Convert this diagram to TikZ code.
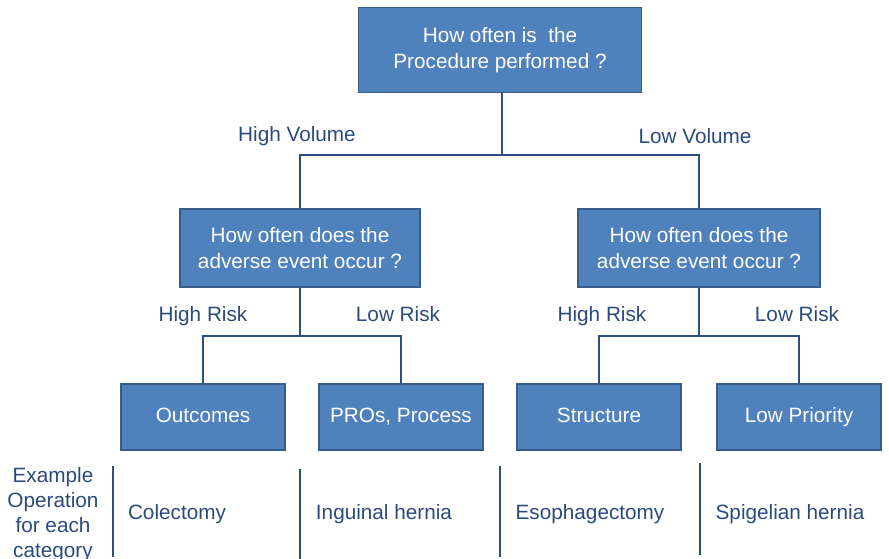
\documentclass[tikz,border=0pt]{standalone}
\usepackage{fontspec}
\setmainfont{Liberation Sans}
\usepackage{xcolor}
\usepackage{tikz}
\usetikzlibrary{positioning}
\definecolor{boxblue}{HTML}{4F81BD}
\definecolor{edgeblue}{HTML}{385D8A}
\definecolor{lineblue}{HTML}{2D4F86}
\definecolor{textblue}{HTML}{2B4A7C}

\begin{document}
\begin{tikzpicture}
\tikzstyle{box}=[draw=edgeblue,line width=1.1pt,fill=boxblue,text=white,align=center,
  font=\fontsize{11.8}{14.7}\selectfont,inner sep=0pt]
\tikzstyle{catbox}=[box,minimum width=3.28cm,minimum height=1.32cm,text height=1.6ex,text depth=.4ex]
\tikzstyle{lbl}=[text=textblue,align=center,font=\fontsize{11.8}{14.2}\selectfont]
\tikzstyle{word}=[lbl,text height=1.6ex,text depth=.4ex]
\tikzstyle{link}=[draw=lineblue,line width=1.6pt]

\useasboundingbox (0,0) rectangle (17.78,11.18);

% Volume question
\node[box,minimum width=5.66cm,minimum height=1.7cm] (top) at (10.0,10.18) {How often is\ \ the\\Procedure performed ?};
% Risk questions
\node[box,minimum width=4.8cm,minimum height=1.56cm] (midL) at (6.0,6.22) {How often does the\\adverse event occur ?};
\node[box,minimum width=4.84cm,minimum height=1.56cm] (midR) at (13.98,6.22) {How often does the\\adverse event occur ?};
% Categories
\node[catbox] (outc) at (4.06,2.84) {Outcomes};
\node[catbox] (pros) at (8.02,2.84) {PROs, Process};
\node[catbox] (struc) at (11.98,2.84) {Structure};
\node[catbox] (lowp) at (15.98,2.84) {Low Priority};

% Branch points
\coordinate (vol) at (10.04,8.08);
\coordinate (riskL) at (6.0,4.46);
\coordinate (riskR) at (13.98,4.46);

\draw[link] (top.south -| vol) -- (vol);
\draw[link] (midL.north) |- (vol) -| (midR.north);
\draw[link] (midL.south) -- (riskL);
\draw[link] (outc.north) |- (riskL) -| (pros.north);
\draw[link] (midR.south) -- (riskR);
\draw[link] (struc.north) |- (riskR) -| (lowp.north);

% Branch labels
\node[word] (hv) at (5.94,8.46) {High Volume};
\node[word] (lv) at (13.9,8.42) {Low Volume};
\node[word] (hrL) at (4.06,4.86) {High Risk};
\node[word] (lrL) at (7.96,4.86) {Low Risk};
\node[word] (hrR) at (12.04,4.86) {High Risk};
\node[word] (lrR) at (15.94,4.86) {Low Risk};

% Example operations
\node[lbl] (expl) at (1.06,0.88) {Example\\Operation\\for each\\category};
\node[word] (colec) at (3.54,0.9) {Colectomy};
\node[word] (ingu) at (7.68,0.9) {Inguinal hernia};
\node[word] (esoph) at (11.8,0.9) {Esophagectomy};
\node[word] (spig) at (15.8,0.9) {Spigelian hernia};

% Separators
\coordinate (sepAt) at (2.26,1.86);
\coordinate (sepAb) at (2.26,0.04);
\coordinate (sepBt) at (6.0,1.8);
\coordinate (sepBb) at (6.0,0);
\coordinate (sepCt) at (10.0,1.86);
\coordinate (sepCb) at (10.0,0.04);
\coordinate (sepDt) at (14.0,1.92);
\coordinate (sepDb) at (14.0,0.08);
\draw[link] (sepAt) -- (sepAb);
\draw[link] (sepBt) -- (sepBb);
\draw[link] (sepCt) -- (sepCb);
\draw[link] (sepDt) -- (sepDb);

\end{tikzpicture}
\end{document}
